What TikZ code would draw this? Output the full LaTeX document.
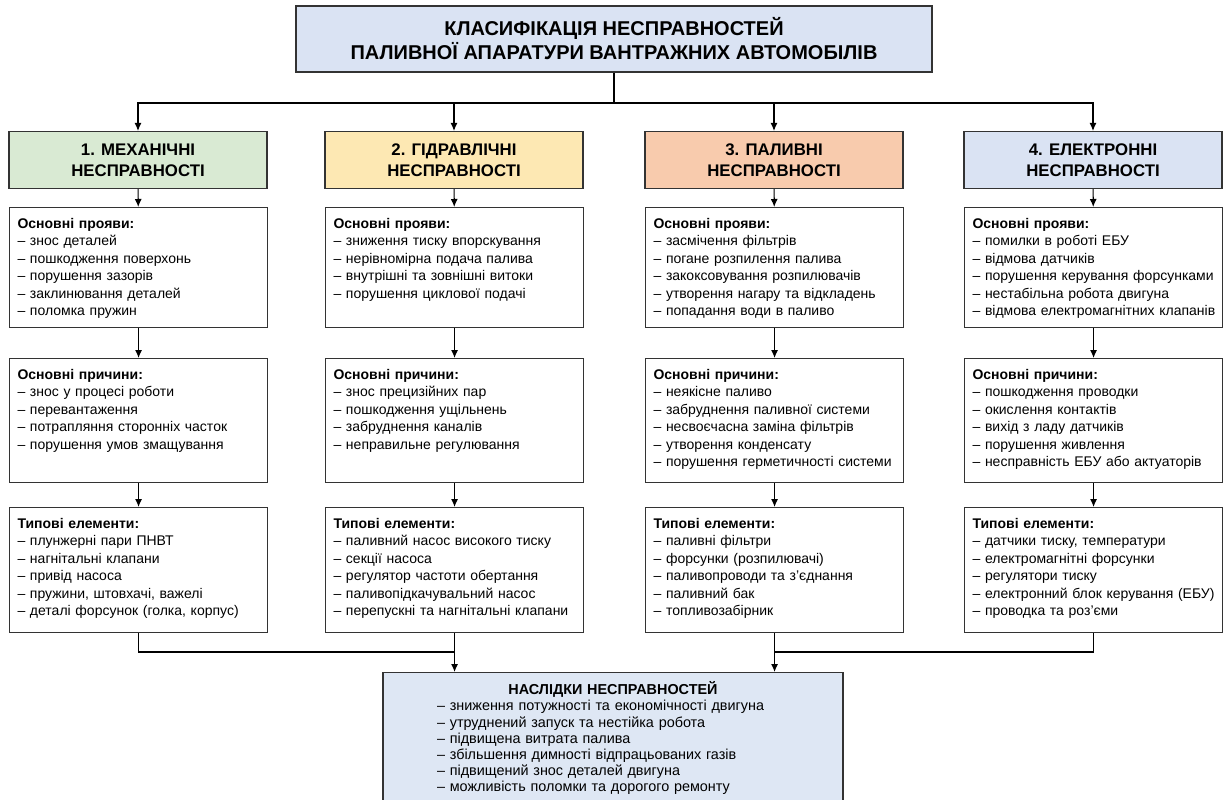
\documentclass[tikz,border=0pt]{standalone}
\usepackage{fontspec}
\setmainfont{Liberation Sans}
\usetikzlibrary{arrows.meta}
\definecolor{titleblue}{HTML}{DAE3F3}
\definecolor{mechgreen}{HTML}{D9EAD3}
\definecolor{hydryellow}{HTML}{FDE8B3}
\definecolor{fuelorange}{HTML}{F8CBAD}
\definecolor{elecblue}{HTML}{DAE3F3}
\definecolor{resblue}{HTML}{DEE7F4}
\definecolor{edge}{HTML}{333333}
\newcommand{\faultlist}[3]{\vbox to #1pt{\vskip 10.5pt\noindent\textbf{#2}\\#3\par\vfill}}
\begin{document}
\begin{tikzpicture}[x=1pt,y=-1pt,
  box/.style={draw=edge, line width=1.1pt},
  titlebox/.style={box, fill=titleblue, minimum width=636pt, minimum height=66pt, align=center, font=\fontsize{20}{24}\selectfont\bfseries},
  headbox/.style={box, minimum width=258pt, minimum height=57pt, align=center, font=\fontsize{16.8}{21}\selectfont\bfseries},
  listbox/.style={box, fill=white, anchor=north west, text width=242pt, inner xsep=8pt, inner ysep=0pt, align=left, font=\fontsize{14}{17.5}\selectfont},
  link/.style={draw=black, line width=1.1pt},
  arr/.style={link, -{Latex[length=8pt,width=7pt]}}]
\useasboundingbox (0,0) rectangle (1227,800);
\clip (0,0) rectangle (1227,800);
\node[titlebox] (title) at (614,39) {КЛАСИФІКАЦІЯ НЕСПРАВНОСТЕЙ\\ПАЛИВНОЇ АПАРАТУРИ ВАНТРАЖНИХ АВТОМОБІЛІВ};
\coordinate (bus) at (614,103);
\node[headbox, fill=mechgreen] (mech) at (138,160) {1. МЕХАНІЧНІ\\НЕСПРАВНОСТІ};
\node[headbox, fill=hydryellow] (hydr) at (454,160) {2. ГІДРАВЛІЧНІ\\НЕСПРАВНОСТІ};
\node[headbox, fill=fuelorange] (fuel) at (774,160) {3. ПАЛИВНІ\\НЕСПРАВНОСТІ};
\node[headbox, fill=elecblue] (elec) at (1093,160) {4. ЕЛЕКТРОННІ\\НЕСПРАВНОСТІ};
\node[listbox] (mechA) at (9,207) {\faultlist{120}{Основні прояви:}{– знос деталей\\– пошкодження поверхонь\\– порушення зазорів\\– заклинювання деталей\\– поломка пружин}};
\node[listbox] (hydrA) at (325,207) {\faultlist{120}{Основні прояви:}{– зниження тиску впорскування\\– нерівномірна подача палива\\– внутрішні та зовнішні витоки\\– порушення циклової подачі}};
\node[listbox] (fuelA) at (645,207) {\faultlist{120}{Основні прояви:}{– засмічення фільтрів\\– погане розпилення палива\\– закоксовування розпилювачів\\– утворення нагару та відкладень\\– попадання води в паливо}};
\node[listbox] (elecA) at (964,207) {\faultlist{120}{Основні прояви:}{– помилки в роботі ЕБУ\\– відмова датчиків\\– порушення керування форсунками\\– нестабільна робота двигуна\\\mbox{– відмова електромагнітних клапанів}}};
\node[listbox] (mechB) at (9,358) {\faultlist{124}{Основні причини:}{– знос у процесі роботи\\– перевантаження\\– потрапляння сторонніх часток\\– порушення умов змащування}};
\node[listbox] (hydrB) at (325,358) {\faultlist{124}{Основні причини:}{– знос прецизійних пар\\– пошкодження ущільнень\\– забруднення каналів\\– неправильне регулювання}};
\node[listbox] (fuelB) at (645,358) {\faultlist{124}{Основні причини:}{– неякісне паливо\\– забруднення паливної системи\\– несвоєчасна заміна фільтрів\\– утворення конденсату\\– порушення герметичності системи}};
\node[listbox] (elecB) at (964,358) {\faultlist{124}{Основні причини:}{– пошкодження проводки\\– окислення контактів\\– вихід з ладу датчиків\\– порушення живлення\\– несправність ЕБУ або актуаторів}};
\node[listbox] (mechC) at (9,507) {\faultlist{125}{Типові елементи:}{– плунжерні пари ПНВТ\\– нагнітальні клапани\\– привід насоса\\– пружини, штовхачі, важелі\\– деталі форсунок (голка, корпус)}};
\node[listbox] (hydrC) at (325,507) {\faultlist{125}{Типові елементи:}{– паливний насос високого тиску\\– секції насоса\\– регулятор частоти обертання\\– паливопідкачувальний насос\\– перепускні та нагнітальні клапани}};
\node[listbox] (fuelC) at (645,507) {\faultlist{125}{Типові елементи:}{– паливні фільтри\\– форсунки (розпилювачі)\\– паливопроводи та з’єднання\\– паливний бак\\– топливозабірник}};
\node[listbox] (elecC) at (964,507) {\faultlist{125}{Типові елементи:}{– датчики тиску, температури\\– електромагнітні форсунки\\– регулятори тиску\\– електронний блок керування (ЕБУ)\\– проводка та роз’єми}};
\node[box, fill=resblue, anchor=north, text width=460pt, inner sep=0pt, font=\fontsize{14.4}{16.2}\selectfont] (result) at (613,672) {\vbox to 145pt{\vskip 8.5pt\hbox to 460pt{\hfil\textbf{НАСЛІДКИ НЕСПРАВНОСТЕЙ}\hfil}\vskip 0.6pt\leftskip=54pt\noindent – зниження потужності та економічності двигуна\\– утруднений запуск та нестійка робота\\– підвищена витрата палива\\– збільшення димності відпрацьованих газів\\– підвищений знос деталей двигуна\\– можливість поломки та дорогого ремонту\par\vfill}};
\coordinate (joinL) at (454,652);
\coordinate (joinR) at (774,652);
\draw[link] (title) -- (bus);
\draw[arr] (bus) -| (mech);
\draw[arr] (bus) -| (hydr);
\draw[arr] (bus) -| (fuel);
\draw[arr] (bus) -| (elec);
\draw[arr] (mech) -- (mechA);
\draw[arr] (hydr) -- (hydrA);
\draw[arr] (fuel) -- (fuelA);
\draw[arr] (elec) -- (elecA);
\draw[arr] (mechA) -- (mechB);
\draw[arr] (hydrA) -- (hydrB);
\draw[arr] (fuelA) -- (fuelB);
\draw[arr] (elecA) -- (elecB);
\draw[arr] (mechB) -- (mechC);
\draw[arr] (hydrB) -- (hydrC);
\draw[arr] (fuelB) -- (fuelC);
\draw[arr] (elecB) -- (elecC);
\draw[link] (mechC) |- (joinL);
\draw[link] (elecC) |- (joinR);
\draw[arr] (hydrC) -- (hydrC |- result.north);
\draw[arr] (fuelC) -- (fuelC |- result.north);
\end{tikzpicture}
\end{document}
